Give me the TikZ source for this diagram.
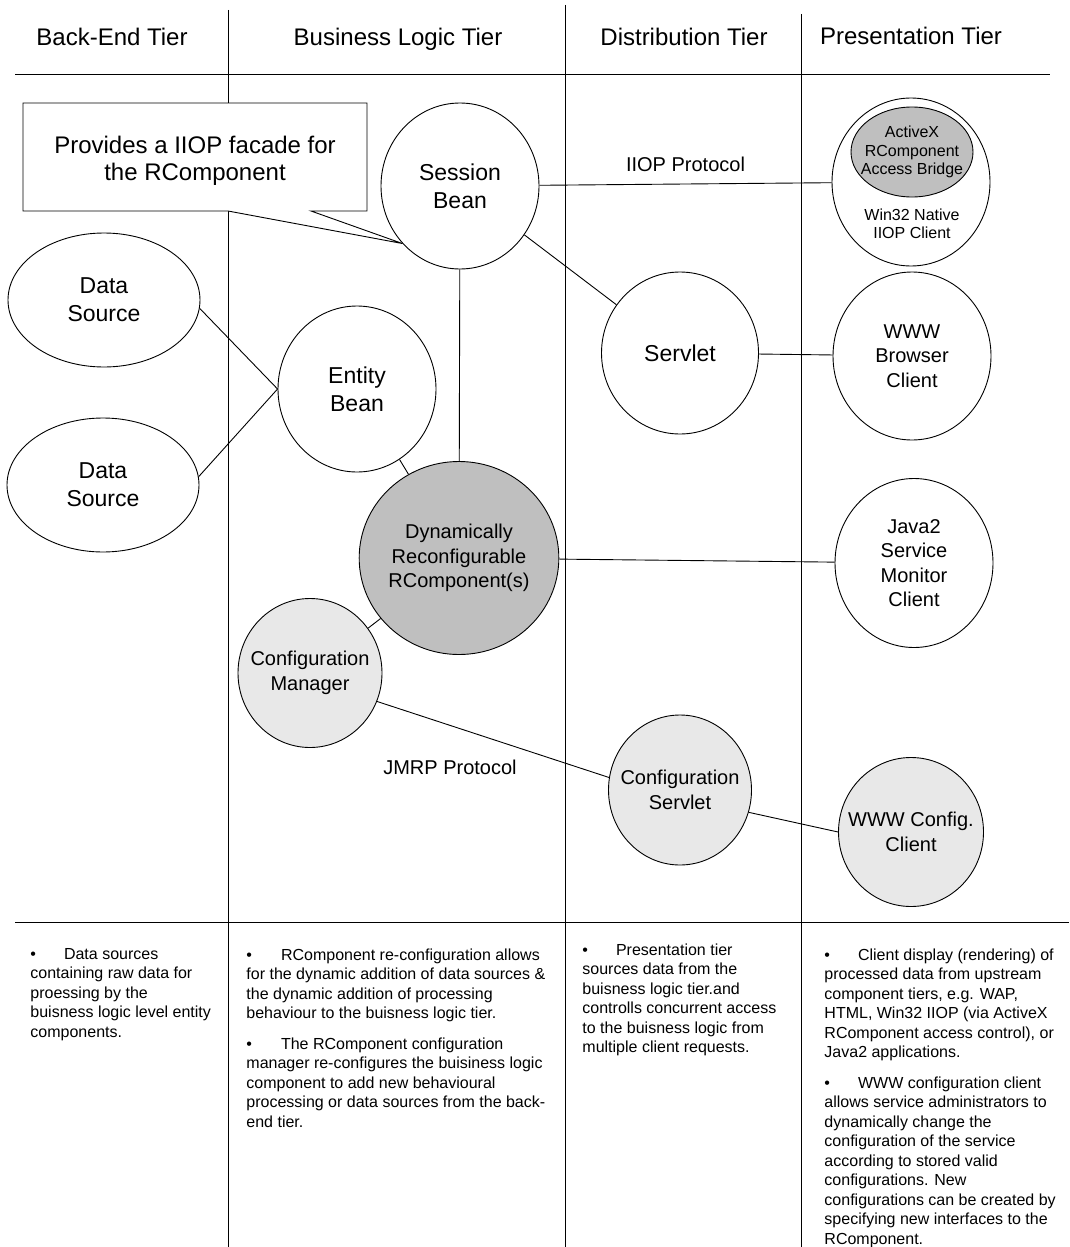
\documentclass[tikz,border=0pt]{standalone}
\usepackage{fontspec}
\setmainfont{Liberation Sans}
\usetikzlibrary{shapes.geometric}
\tikzset{
    comp/.style={draw, ellipse, fill=white, inner sep=0pt, align=center, font=\fontsize{23}{28}\selectfont},
    small/.style={font=\fontsize{20}{24.5}\selectfont},
    tiny/.style={font=\fontsize{16}{18.5}\selectfont},
    tier/.style={font=\fontsize{24}{28}\selectfont, text height=17pt, text depth=5pt},
    notes/.style={anchor=north west, inner sep=0pt, align=left, font=\fontsize{16}{19.5}\selectfont},
}
\begin{document}
\begin{tikzpicture}[x=1pt, y=-1pt, line width=0.9pt]
    \useasboundingbox (0,0) rectangle (1069,1247);
    % tier grid
    \draw (228,10) -- (228,1247);
    \draw (565,5) -- (565,1247);
    \draw (801,14) -- (801,1247);
    \draw (15,74) -- (1050,74);
    \draw (15,922) -- (1069,922);
    \node[tier] (backend) at (112,40) {Back-End Tier};
    \node[tier] (logic) at (398,40) {Business Logic Tier};
    \node[tier] (distrib) at (684,40) {Distribution Tier};
    \node[tier] (present) at (911,39) {Presentation Tier};
    % components
    \node[comp, minimum width=192, minimum height=134] (ds1) at (104,300) {Data\\Source};
    \node[comp, minimum width=192, minimum height=134] (ds2) at (103,485) {Data\\Source};
    \node[comp, minimum width=158, minimum height=166] (entity) at (357,389) {Entity\\Bean};
    \node[comp, minimum width=158, minimum height=166] (session) at (460,186) {Session\\Bean};
    \node[comp, minimum width=157, minimum height=162] (servlet) at (680,353) {Servlet};
    \node[comp, small, fill=black!25, minimum width=198, minimum height=193] (dyn) at (459,558) {Dynamically\\Reconfigurable\\RComponent(s)};
    \node[comp, small, fill=black!9, inner xsep=-9pt, minimum width=144, minimum height=149] (cfgmgr) at (310,673) {Configuration\\Manager};
    \node[comp, small, fill=black!9, inner xsep=-9pt, minimum width=143, minimum height=150] (cfgsrv) at (680,790) {Configuration\\Servlet};
    \node[comp, small, fill=black!9, inner xsep=-12pt, minimum width=145, minimum height=149] (wwwcfg) at (911,832) {WWW Config.\\Client};
    \node[comp, minimum width=158, minimum height=168] (win32) at (911,182) {};
    \node[comp, tiny, fill=black!25, inner xsep=-8pt, minimum width=122, minimum height=90] (bridge) at (912,152) {ActiveX\\RComponent\\Access Bridge};
    \node[tiny, align=center] (win32lbl) at (912,224) {Win32 Native\\IIOP Client};
    \node[comp, small, minimum width=158, minimum height=168] (browser) at (912,356) {WWW\\Browser\\Client};
    \node[comp, small, minimum width=158, minimum height=169] (java2) at (914,563) {Java2\\Service\\Monitor\\Client};
    % connectors
    \draw (ds1.-5) -- (entity.west);
    \draw (ds2.5) -- (entity.west);
    \draw (entity) -- (dyn);
    \draw (session) -- (dyn);
    \draw (session) -- (servlet);
    \draw (session) -- (win32) node[midway, above=9pt, small] {IIOP Protocol};
    \draw (servlet) -- (browser);
    \draw (dyn) -- (java2);
    \draw (dyn) -- (cfgmgr);
    \draw (cfgmgr.-23) -- (cfgsrv.170);
    \draw (cfgsrv.-18) -- (wwwcfg.west);
    \node[small] (jmrp) at (450,767) {JMRP Protocol};
    % callout
    \draw[fill=white] (23,103) -- (367,103) -- (367,211) -- (311,211) -- (session.225) -- (228,211) -- (23,211) -- cycle;
    \node[align=center, font=\fontsize{24}{27}\selectfont] (callout) at (195,161) {Provides a IIOP facade for\\the RComponent};
    % tier notes
    \node[notes] (note1) at (30,948) {\textbullet\hspace{28pt}Data sources\\containing raw data for\\proessing by the\\buisness logic level entity\\components.};
    \node[notes] (note2) at (246,948) {\textbullet\hspace{29pt}RComponent re-configuration allows\\for the dynamic addition of data sources \&\\the dynamic addition of processing\\behaviour to the buisness logic tier.\\[11pt]
        \textbullet\hspace{29pt}The RComponent configuration\\manager re-configures the buisiness logic\\component to add new behavioural\\processing or data sources from the back-\\end tier.};
    \node[notes] (note3) at (582,943) {\textbullet\hspace{28pt}Presentation tier\\sources data from the\\buisness logic tier.and\\controlls concurrent access\\to the buisness logic from\\multiple client requests.};
    \node[notes] (note4) at (824,948) {\textbullet\hspace{28pt}Client display (rendering) of\\processed data from upstream\\component tiers, e.g. WAP,\\HTML, Win32 IIOP (via ActiveX\\RComponent access control), or\\Java2 applications.\\[11pt]
        \textbullet\hspace{28pt}WWW configuration client\\allows service administrators to\\dynamically change the\\configuration of the service\\according to stored valid\\configurations. New\\configurations can be created by\\specifying new interfaces to the\\RComponent.};
\end{tikzpicture}
\end{document}
